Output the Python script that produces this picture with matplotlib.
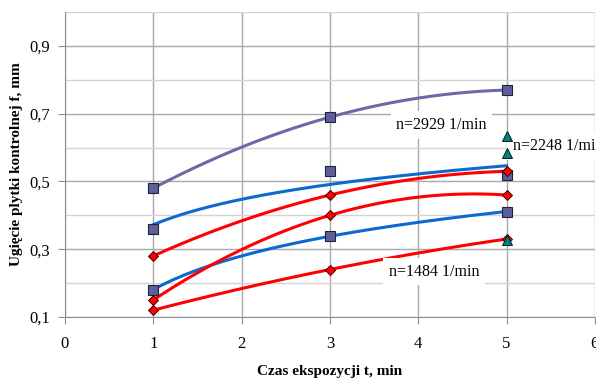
import numpy as np
import matplotlib
matplotlib.use('Agg')
import matplotlib.pyplot as plt
from matplotlib.ticker import FuncFormatter, MultipleLocator

plt.rcParams['font.family'] = ['Liberation Serif', 'DejaVu Serif']

# exposure times
t = [1, 3, 5]

sq_top = [0.48, 0.69, 0.77]      # n=2929, squares, quadratic trend
sq_mid = [0.36, 0.53, 0.52]      # squares, log trend
sq_low = [0.18, 0.34, 0.41]      # squares, log trend
dia_top = [0.28, 0.46, 0.53]     # diamonds
dia_mid = [0.15, 0.40, 0.46]
dia_low = [0.12, 0.24, 0.33]
tri_t = [5, 5, 5]
tri_f = [0.635, 0.585, 0.327]

purple = '#6A6AA8'
blue = '#0A6AD0'
red = '#FF0000'

fig = plt.figure(figsize=(5.96, 3.80), dpi=100)
ax = fig.add_axes([0.109, 0.166, 0.889, 0.802])

xs = np.linspace(1, 5, 200)

# trend lines
c = np.polyfit(t, sq_top, 2)
ax.plot(xs, np.polyval(c, xs), color=purple, lw=2.2, zorder=3)
for ys in [sq_mid, sq_low]:
    b, a = np.polyfit(np.log(t), ys, 1)
    ax.plot(xs, a + b * np.log(xs), color=blue, lw=2.2, zorder=3)
for ys in [dia_top, dia_mid, dia_low]:
    c = np.polyfit(t, ys, 2)
    ax.plot(xs, np.polyval(c, xs), color=red, lw=2.2, zorder=3)

# markers
for ys in [sq_top, sq_mid, sq_low]:
    ax.plot(t, ys, 's', ms=7, mfc='#5E5E9C', mec='#20203a', mew=0.8, zorder=5)
for ys in [dia_top, dia_mid, dia_low]:
    ax.plot(t, ys, 'D', ms=5, mfc=red, mec='#400000', mew=0.7, zorder=5)
ax.plot(tri_t, tri_f, '^', ms=6.5, mfc='#008080', mec='#002020', mew=0.7, zorder=6)

ax.set_xlim(0, 6)
ax.set_ylim(0.1, 1.0)
ax.xaxis.set_major_locator(MultipleLocator(1))
ax.set_yticks([0.1, 0.3, 0.5, 0.7, 0.9])
ax.yaxis.set_minor_locator(MultipleLocator(0.1))
ax.yaxis.set_major_formatter(FuncFormatter(lambda v, p: f'{v:.1f}'.replace('.', ',')))

ax.grid(True, which='major', color='#A8A8A8', lw=1.0, zorder=0)
ax.grid(True, which='minor', axis='y', color='#D4D4D4', lw=1.0, zorder=0)
ax.set_axisbelow(True)
for s in ['top', 'right']:
    ax.spines[s].set_visible(False)
for s in ['left', 'bottom']:
    ax.spines[s].set_color('#909090')
ax.tick_params(which='major', length=5, color='#909090', labelsize=12)
ax.tick_params(axis='x', pad=9)
ax.tick_params(axis='y', pad=6)
ax.tick_params(which='minor', length=0)

ax.set_xlabel('Czas ekspozycji t, min', fontsize=11, fontweight='bold', labelpad=9)
ax.set_ylabel('Ugięcie plytki kontrolnej f, mm', fontsize=11, fontweight='bold', labelpad=4)

box = dict(facecolor='white', edgecolor='none', pad=4)
ax.text(3.75, 0.667, 'n=2929 1/min', fontsize=11.5, va='center', bbox=box, zorder=4)
ax.text(5.07, 0.605, 'n=2248 1/min', fontsize=11.5, va='center', bbox=box, zorder=4, clip_on=False)
ax.text(3.67, 0.233, 'n=1484 1/min', fontsize=11.5, va='center', bbox=box, zorder=4)

fig.savefig('out.png', dpi=100)
